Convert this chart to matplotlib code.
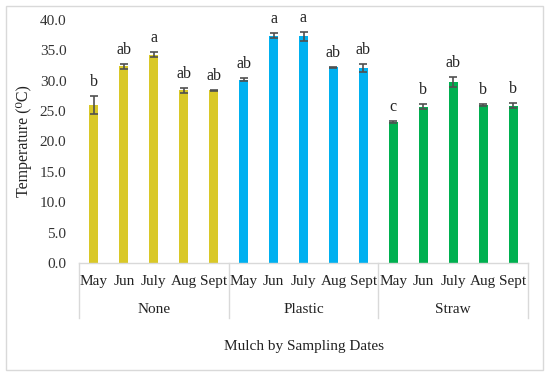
import matplotlib
matplotlib.use("Agg")
import matplotlib.pyplot as plt
import matplotlib.transforms as mtransforms
from matplotlib.patches import Rectangle

groups = ["None", "Plastic", "Straw"]
months = ["May", "Jun", "July", "Aug", "Sept"]
none_vals = [26.0, 32.4, 34.3, 28.4, 28.4]
plastic_vals = [30.2, 37.4, 37.3, 32.2, 32.1]
straw_vals = [23.2, 25.7, 29.8, 26.0, 25.9]
none_err = [1.5, 0.4, 0.4, 0.4, 0.1]
plastic_err = [0.2, 0.4, 0.7, 0.1, 0.6]
straw_err = [0.1, 0.4, 0.8, 0.1, 0.4]
none_letters = ["b", "ab", "a", "ab", "ab"]
plastic_letters = ["ab", "a", "a", "ab", "ab"]
straw_letters = ["c", "b", "ab", "b", "b"]
colors = ["#D9C828", "#00B0F0", "#00B050"]
yticks = [0, 5, 10, 15, 20, 25, 30, 35, 40]

plt.rcParams['font.family'] = ['Liberation Serif', 'DejaVu Serif']

fig = plt.figure(figsize=(5.5, 3.76), dpi=100)
fig.patches.append(Rectangle((6/550, 6/376), 537/550, 364/376, transform=fig.transFigure,
                             fill=False, edgecolor="#D9D9D9", linewidth=1.0))
ax = fig.add_axes([79/550, (376-263)/376, 449/550, 243/376])

all_vals = [none_vals, plastic_vals, straw_vals]
all_err = [none_err, plastic_err, straw_err]
all_letters = [none_letters, plastic_letters, straw_letters]
for g in range(3):
    xs = [g*5 + i for i in range(5)]
    ax.bar(xs, all_vals[g], width=0.3, color=colors[g], zorder=2)
    ax.errorbar(xs, all_vals[g], yerr=all_err[g], fmt="none", ecolor="#505050",
                elinewidth=1.2, capsize=3, capthick=1.2, zorder=3)
    for x, v, e, l in zip(xs, all_vals[g], all_err[g], all_letters[g]):
        ax.text(x, v + e + 1.0, l, ha="center", va="bottom", fontsize=11.5, color="#222222")

ax.set_xlim(-0.5, 14.5)
ax.set_ylim(0, 40)
ax.set_yticks(yticks)
ax.set_yticklabels([f"{t:.1f}" for t in yticks], fontsize=11, color="#333333")
ax.tick_params(axis="y", length=0, pad=9)
ax.set_xticks([])
for s in ["top", "right", "left"]:
    ax.spines[s].set_visible(False)
ax.spines["bottom"].set_color("#D9D9D9")
ax.spines["bottom"].set_linewidth(1.0)

trans = mtransforms.blended_transform_factory(ax.transData, ax.transAxes)
for xb in [-0.5, 4.5, 9.5, 14.5]:
    ax.plot([xb, xb], [0, -0.226], transform=trans, color="#D9D9D9", lw=1.0, clip_on=False)
for g in range(3):
    for i, m in enumerate(months):
        ax.text(g*5 + i, -0.078, m, transform=trans, ha="center", va="center",
                fontsize=11, color="#222222")
    ax.text(g*5 + 2, -0.19, groups[g], transform=trans, ha="center", va="center",
            fontsize=11, color="#222222")
ax.text(0.5, -0.345, "Mulch by Sampling Dates", transform=ax.transAxes, ha="center",
        va="center", fontsize=11, color="#222222")
ax.set_ylabel("Temperature (\u2070C)", fontsize=11.5, color="#222222", labelpad=6)

fig.savefig("out.png", dpi=100)
